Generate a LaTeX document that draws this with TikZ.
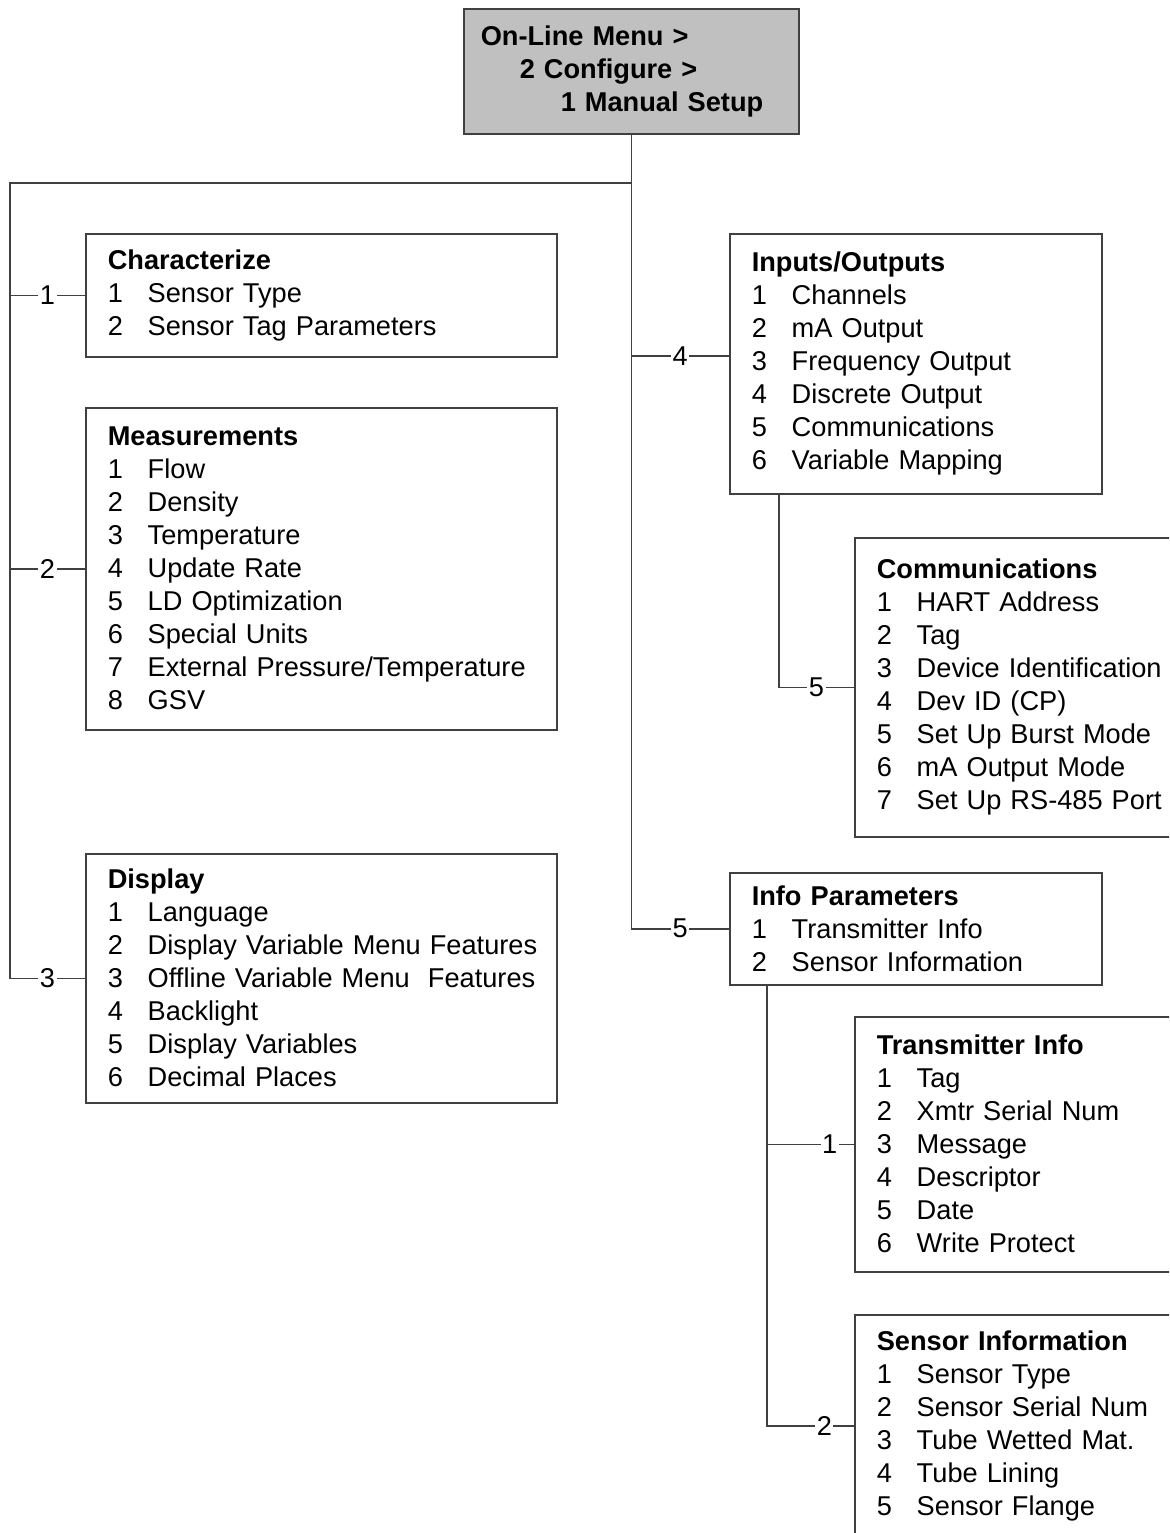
\documentclass[tikz,border=0pt]{standalone}
\usepackage{fontspec}
\setmainfont{Liberation Sans}
\newlength\px
\setlength\px{0.5pt}
\definecolor{menugray}{HTML}{C0C0C0}
\definecolor{linegray}{HTML}{404040}
\newcommand\itm[2]{\mbox{\makebox[40\px][l]{#1}#2}}

\begin{document}
\begin{tikzpicture}[x=0.5pt,y=-0.5pt,
  every node/.style={font=\fontsize{13.6}{16.5}\selectfont},
  menubox/.style={draw=linegray, line width=1.5\px, fill=menugray, anchor=north west,
    align=left, inner xsep=17\px, inner ysep=0pt, text width=301\px, minimum height=125\px,
    font=\fontsize{13.6}{16.5}\selectfont\bfseries},
  itembox/.style={draw=linegray, line width=1.5\px, anchor=north west,
    align=left, inner xsep=22\px, inner ysep=0pt, text width=#1},
  link/.style={draw=linegray, line width=1.5\px},
  num/.style={fill=white, inner xsep=1.5\px, inner ysep=0pt}]
\useasboundingbox (0,0) rectangle (1169,1533);
\clip (0,0) rectangle (1169,1533);

% menu path
\node[menubox] (menu) at (463,8)
{On-Line Menu >\\\hspace*{39\px}2 Configure >\\\hspace*{80\px}1 Manual Setup};

% left column
\node[itembox=427\px, minimum height=123\px] (char) at (85,233)
{\textbf{Characterize}\\\itm{1}{Sensor Type}\\\itm{2}{Sensor Tag Parameters}};
\node[itembox=427\px, minimum height=322\px] (meas) at (85,407)
{\textbf{Measurements}\\\itm{1}{Flow}\\\itm{2}{Density}\\\itm{3}{Temperature}\\
\itm{4}{Update Rate}\\\itm{5}{LD Optimization}\\\itm{6}{Special Units}\\
\itm{7}{External Pressure/Temperature}\\\itm{8}{GSV}};
\node[itembox=427\px, minimum height=249\px] (disp) at (85,853)
{\textbf{Display}\\\itm{1}{Language}\\\itm{2}{Display Variable Menu Features}\\
\itm{3}{Offline Variable Menu~ Features}\\\itm{4}{Backlight}\\
\itm{5}{Display Variables}\\\itm{6}{Decimal Places}};

% right column
\node[itembox=328\px, minimum height=260\px] (io) at (729,233)
{\textbf{Inputs/Outputs}\\\itm{1}{Channels}\\\itm{2}{mA Output}\\\itm{3}{Frequency Output}\\
\itm{4}{Discrete Output}\\\itm{5}{Communications}\\\itm{6}{Variable Mapping}};
\node[itembox=302\px, minimum height=299\px] (comm) at (854,537)
{\textbf{Communications}\\\itm{1}{HART Address}\\\itm{2}{Tag}\\\itm{3}{Device Identification}\\
\itm{4}{Dev ID (CP)}\\\itm{5}{Set Up Burst Mode}\\\itm{6}{mA Output Mode}\\
\itm{7}{Set Up RS-485 Port}};
\node[itembox=328\px, minimum height=112\px] (info) at (729,872)
{\textbf{Info Parameters}\\\itm{1}{Transmitter Info}\\\itm{2}{Sensor Information}};
\node[itembox=302\px, minimum height=255\px] (xmtr) at (854,1016)
{\textbf{Transmitter Info}\\\itm{1}{Tag}\\\itm{2}{Xmtr Serial Num}\\\itm{3}{Message}\\
\itm{4}{Descriptor}\\\itm{5}{Date}\\\itm{6}{Write Protect}};
\node[itembox=302\px, minimum height=222\px] (sens) at (854,1314)
{\textbf{Sensor Information}\\\itm{1}{Sensor Type}\\\itm{2}{Sensor Serial Num}\\
\itm{3}{Tube Wetted Mat.}\\\itm{4}{Tube Lining}\\\itm{5}{Sensor Flange}};

% connectors
\coordinate (ltop) at (10,183);
\draw[link] (menu.south) |- (ltop) -- (ltop |- disp.west) -- node[num]{3} (disp.west);
\draw[link] (ltop |- char.west) -- node[num]{1} (char.west);
\draw[link] (ltop |- meas.west) -- node[num]{2} (meas.west);
\draw[link] (menu.south) -- (menu.south |- info.west) -- node[num]{5} (info.west);
\draw[link] (menu.south |- 0,356) -- node[num]{4} (io.west |- 0,356);
\coordinate (iotap) at ([xshift=50\px]io.south west);
\draw[link] (iotap) |- node[num, pos=0.75]{5} (comm.west);
\coordinate (infotap) at ([xshift=38\px]info.south west);
\draw[link] (infotap) |- node[num, pos=0.83]{2} (sens.west);
\draw[link] (infotap |- xmtr.west) -- node[num, pos=0.72]{1} (xmtr.west);
\end{tikzpicture}
\end{document}
